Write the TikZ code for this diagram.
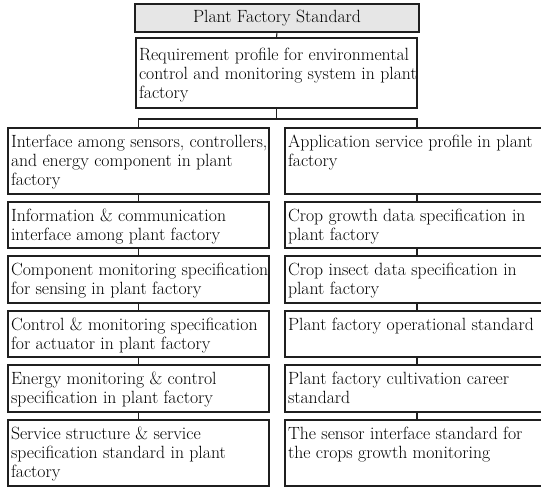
\documentclass[tikz,border=0pt]{standalone}
\newcommand\boxtext[4][5.7pt]{\parbox[c][#2][t]{#3}{\vspace*{#1}\noindent\begin{tabular}[t]{@{}l@{}}#4\end{tabular}}}
\definecolor{headgray}{HTML}{E6E6E6}
\begin{document}
\begin{tikzpicture}[x=1pt,y=-1pt,
  every node/.style={font=\fontsize{17.7}{19}\selectfont},
  frame/.style={draw=black!88, line width=1.1pt, inner xsep=3pt, inner ysep=0pt, outer sep=0pt, anchor=north west},
  link/.style={draw=black!88, line width=1.1pt}]
\useasboundingbox (0,0) rectangle (541,488);
\clip (0,0) rectangle (541,488);

\node[frame, fill=headgray, inner sep=0pt, minimum width=284pt, minimum height=28pt] (std) at (135,4) {Plant Factory Standard};
\node[frame] (req) at (136,38) {\boxtext[8.7pt]{70pt}{275pt}{Requirement profile for environmental\\control and monitoring system in plant\\factory}};

% left column
\node[frame] (l1) at (8,128) {\boxtext{66pt}{255pt}{Interface among sensors, controllers,\\and energy component in plant\\factory}};
\node[frame] (l2) at (8,202) {\boxtext{46pt}{255pt}{Information \& communication\\interface among plant factory}};
\node[frame] (l3) at (8,256) {\boxtext{47pt}{255pt}{Component monitoring specification\\for sensing in plant factory}};
\node[frame] (l4) at (8,311) {\boxtext{46pt}{255pt}{Control \& monitoring specification\\for actuator in plant factory}};
\node[frame] (l5) at (8,365) {\boxtext{47pt}{255pt}{Energy monitoring \& control\\specification in plant factory}};
\node[frame] (l6) at (8,420) {\boxtext{66pt}{255pt}{Service structure \& service\\specification standard in plant\\factory}};

% right column
\node[frame] (r1) at (285,128) {\boxtext{66pt}{258pt}{Application service profile in plant\\factory}};
\node[frame] (r2) at (285,202) {\boxtext{46pt}{258pt}{Crop growth data specification in\\plant factory}};
\node[frame] (r3) at (285,256) {\boxtext{47pt}{258pt}{Crop insect data specification in\\plant factory}};
\node[frame] (r4) at (285,311) {\boxtext{46pt}{258pt}{Plant factory operational standard}};
\node[frame] (r5) at (285,365) {\boxtext{47pt}{258pt}{Plant factory cultivation career\\standard}};
\node[frame] (r6) at (285,420) {\boxtext{66pt}{258pt}{The sensor interface standard for\\the crops growth monitoring}};

% connectors
\coordinate (bar) at (276.5,119);
\draw[link] (std.south) -- (req.north);
\draw[link] (req.south) -- (req.south |- bar);
\draw[link] (l1.north) |- (bar) -| (r1.north);
\draw[link] (l1.south) -- (l2.north);
\draw[link] (l2.south) -- (l3.north);
\draw[link] (l3.south) -- (l4.north);
\draw[link] (l4.south) -- (l5.north);
\draw[link] (l5.south) -- (l6.north);
\draw[link] (r1.south) -- (r2.north);
\draw[link] (r2.south) -- (r3.north);
\draw[link] (r3.south) -- (r4.north);
\draw[link] (r4.south) -- (r5.north);
\draw[link] (r5.south) -- (r6.north);
\end{tikzpicture}
\end{document}
